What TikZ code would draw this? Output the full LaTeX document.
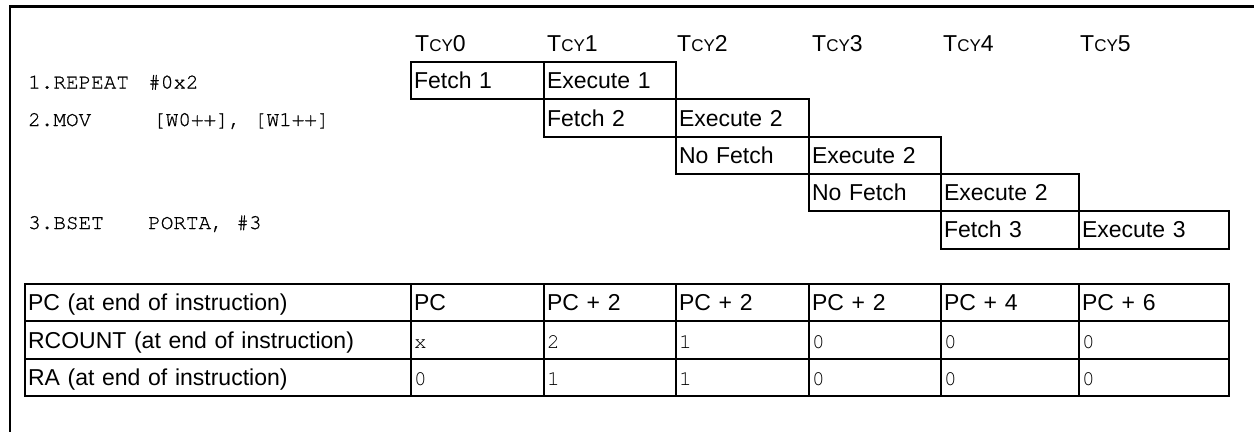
\documentclass[tikz,border=0pt]{standalone}
\usepackage{fontspec}
\setmainfont{Liberation Sans}
\newfontfamily\codefont{TeX Gyre Cursor}
\newfontfamily\codefontd[FakeBold=0.8]{TeX Gyre Cursor}
\begin{document}
\begin{tikzpicture}[x=1pt,y=-1pt,
  cell/.style={draw, line width=2.1pt, anchor=north west, minimum height=37.3pt,
    inner xsep=3pt, inner ysep=0pt, text height=16pt, text depth=0pt, align=left,
    font=\fontsize{23}{27}\selectfont},
  mcell/.style={cell, font=\codefont\fontsize{21}{25}\selectfont},
  code/.style={anchor=base west, inner sep=0pt, font=\codefontd\fontsize{21}{25}\selectfont},
  tcy/.style={anchor=base west, inner sep=0pt, font=\fontsize{23}{27}\selectfont},
  frame/.style={line width=2.3pt}]
\useasboundingbox (0,0) rectangle (1254,432);
\newcommand{\Tcy}[1]{T{\fontsize{17}{19}\selectfont CY}#1}
% frame
\coordinate (fr) at (1254,6.5);
\coordinate (fc) at (10,6.5);
\coordinate (fb) at (10,432);
\draw[frame] (fr) -- (fc) -- (fb);
% cycle labels
\node[tcy] (t0) at (415,51.7) {\Tcy{0}};
\node[tcy] (t1) at (547,51.7) {\Tcy{1}};
\node[tcy] (t2) at (677,51.7) {\Tcy{2}};
\node[tcy] (t3) at (812,51.7) {\Tcy{3}};
\node[tcy] (t4) at (943,51.7) {\Tcy{4}};
\node[tcy] (t5) at (1080,51.7) {\Tcy{5}};
% code lines
\node[code] (c1a) at (28,88.5) {1.REPEAT};
\node[code] (c1b) at (148,88.5) {\#0x2};
\node[code] (c2a) at (28,126) {2.MOV};
\node[code] (c2b) at (153,126) {[W0++], [W1++]};
\node[code] (c3a) at (28,229) {3.BSET};
\node[code] (c3b) at (148,229) {PORTA, \#3};
% pipeline
\node[cell, text width=127pt] (f1) at (410,61) {Fetch 1};
\node[cell, text width=126pt] (e1) at (543,61) {Execute 1};
\node[cell, text width=126pt] (f2) at (543,98.3) {Fetch 2};
\node[cell, text width=127pt] (e2a) at (675,98.3) {Execute 2};
\node[cell, text width=127pt] (nf1) at (675,135.6) {No Fetch};
\node[cell, text width=126pt] (e2b) at (808,135.6) {Execute 2};
\node[cell, text width=126pt] (nf2) at (808,172.9) {No Fetch};
\node[cell, text width=132pt] (e2c) at (940,172.9) {Execute 2};
\node[cell, text width=132pt] (f3) at (940,210.2) {Fetch 3};
\node[cell, text width=144pt] (e3) at (1078,210.2) {Execute 3};
% table
\node[cell, text width=380pt] (pcl) at (24,283) {PC (at end of instruction)};
\node[cell, text width=127pt] (pc0) at (410,283) {PC};
\node[cell, text width=126pt] (pc1) at (543,283) {PC + 2};
\node[cell, text width=127pt] (pc2) at (675,283) {PC + 2};
\node[cell, text width=126pt] (pc3) at (808,283) {PC + 2};
\node[cell, text width=132pt] (pc4) at (940,283) {PC + 4};
\node[cell, text width=144pt] (pc5) at (1078,283) {PC + 6};
\node[cell, text width=380pt] (rcl) at (24,320.3) {RCOUNT (at end of instruction)};
\node[mcell, text width=127pt] (rc0) at (410,320.3) {x};
\node[mcell, text width=126pt] (rc1) at (543,320.3) {2};
\node[mcell, text width=127pt] (rc2) at (675,320.3) {1};
\node[mcell, text width=126pt] (rc3) at (808,320.3) {0};
\node[mcell, text width=132pt] (rc4) at (940,320.3) {0};
\node[mcell, text width=144pt] (rc5) at (1078,320.3) {0};
\node[cell, text width=380pt] (ral) at (24,357.6) {RA (at end of instruction)};
\node[mcell, text width=127pt] (ra0) at (410,357.6) {0};
\node[mcell, text width=126pt] (ra1) at (543,357.6) {1};
\node[mcell, text width=127pt] (ra2) at (675,357.6) {1};
\node[mcell, text width=126pt] (ra3) at (808,357.6) {0};
\node[mcell, text width=132pt] (ra4) at (940,357.6) {0};
\node[mcell, text width=144pt] (ra5) at (1078,357.6) {0};
\end{tikzpicture}
\end{document}
